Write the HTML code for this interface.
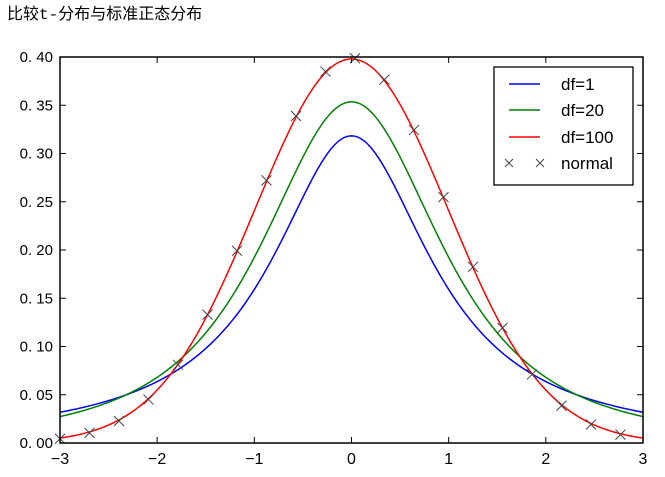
<!DOCTYPE html>
<html><head><meta charset="utf-8"><style>
body{margin:0;background:#fff;width:665px;height:472px;overflow:hidden}
svg text{font-family:"Liberation Sans","Noto Sans CJK SC",sans-serif}
</style></head><body>
<svg id="s" width="665" height="472" xmlns="http://www.w3.org/2000/svg">
<text x="7" y="19" font-size="16" fill="#000" style="font-family:'Liberation Mono','Noto Sans CJK SC',sans-serif">比较t-分布与标准正态分布</text>
<g id="g"></g>
<rect x="60" y="57" width="583" height="386" fill="none" stroke="#000" stroke-width="1.5"/>
<rect x="494" y="67" width="139" height="118" fill="#fff" stroke="#000" stroke-width="1.3"/>
<line x1="509" y1="84" x2="540" y2="84" stroke="#0000ff" stroke-width="1.5"/>
<line x1="509" y1="110" x2="540" y2="110" stroke="#008000" stroke-width="1.5"/>
<line x1="509" y1="137" x2="540" y2="137" stroke="#ff0000" stroke-width="1.5"/>
<g stroke="#444" stroke-width="1"><path d="M505 159l8 8M513 159l-8 8M536 159l8 8M544 159l-8 8"/></g>
<g font-size="17" style="font-family:'Liberation Mono',monospace">
<text x="561" y="90">df=1</text><text x="561" y="116">df=20</text><text x="561" y="143">df=100</text><text x="561" y="169">normal</text>
</g>
</svg>
<script>
var X0=351.5,SX=97.17,Y0=443,SY=965;
function px(x){return X0+x*SX}function py(y){return Y0-y*SY}
function lg(z){var g=7,c=[0.99999999999980993,676.5203681218851,-1259.1392167224028,771.32342877765313,-176.61502916214059,12.507343278686905,-0.13857109526572012,9.9843695780195716e-6,1.5056327351493116e-7];z-=1;var x=c[0];for(var i=1;i<9;i++)x+=c[i]/(z+i);var t=z+g+0.5;return 0.5*Math.log(2*Math.PI)+(z+0.5)*Math.log(t)-t+Math.log(x)}
function tp(x,n){return Math.exp(lg((n+1)/2)-lg(n/2))/Math.sqrt(n*Math.PI)*Math.pow(1+x*x/n,-(n+1)/2)}
function np(x){return Math.exp(-x*x/2)/Math.sqrt(2*Math.PI)}
var g=document.getElementById('g'),h='';
[[1,'#0000ff'],[2,'#008000'],[100,'#ff0000']].forEach(function(a){var d='';for(var i=0;i<=300;i++){var x=-3+6*i/300;d+=(i?'L':'M')+px(x).toFixed(2)+' '+py(tp(x,a[0])).toFixed(2)}h+='<path d="'+d+'" fill="none" stroke="'+a[1]+'" stroke-width="1.5"/>'});
var ms=[60];for(var k=0;k<19;k++)ms.push(89.5+29.5*k);
ms.forEach(function(p){var x=(p-X0)/SX,y=py(np(x));h+='<path d="M'+(p-5)+' '+(y-5)+'l10 10M'+(p+5)+' '+(y-5)+'l-10 10" stroke="#444" stroke-width="1"/>'});
var t='';
for(var i=-3;i<=3;i++){var x=px(i);t+='<line x1="'+x+'" y1="443" x2="'+x+'" y2="437" stroke="#000"/><line x1="'+x+'" y1="57" x2="'+x+'" y2="63" stroke="#000"/><text x="'+x+'" y="464" text-anchor="middle" font-size="16">'+(i<0?'\u2212'+(-i):i)+'</text>'}
for(var j=0;j<=8;j++){var v=j*0.05,y=py(v);t+='<line x1="60" y1="'+y+'" x2="66" y2="'+y+'" stroke="#000"/><line x1="643" y1="'+y+'" x2="637" y2="'+y+'" stroke="#000"/><text x="53" y="'+(y+5)+'" text-anchor="end" font-size="15">'+v.toFixed(2).replace('.','. ')+'</text>'}
g.innerHTML=h+t;
</script>
</body></html>
